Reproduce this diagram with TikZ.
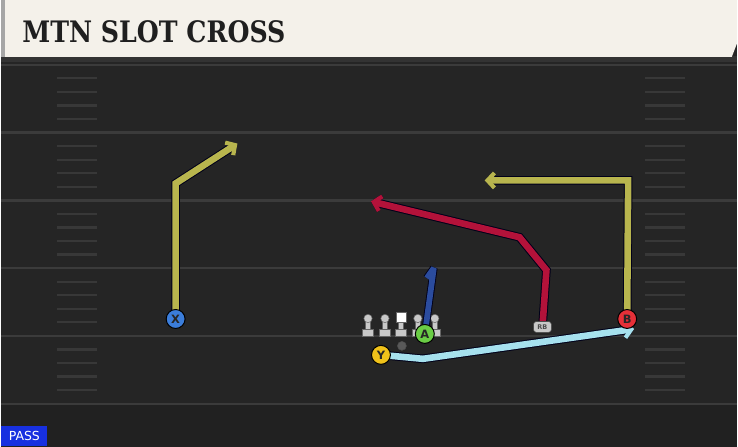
\documentclass[tikz,border=0pt]{standalone}
\usepackage{fontspec}
\setmainfont{DejaVu Sans}
\newfontfamily\titlefont{DejaVu Serif}
\usetikzlibrary{arrows.meta, calc}

\definecolor{fieldgray}{HTML}{252525}
\definecolor{yardline}{HTML}{3B3B3B}
\definecolor{hashgray}{HTML}{383838}
\definecolor{titlebg}{HTML}{F4F1EA}
\definecolor{routeolive}{HTML}{B8B54E}
\definecolor{routered}{HTML}{B3123A}
\definecolor{routeblue}{HTML}{2B4C9E}
\definecolor{routecyan}{HTML}{A6E1EE}
\definecolor{xblue}{HTML}{3B7DDA}
\definecolor{bred}{HTML}{E53038}
\definecolor{yyellow}{HTML}{F0C21A}
\definecolor{agreen}{HTML}{6ACD45}
\definecolor{passblue}{HTML}{1730E0}
\definecolor{olgray}{HTML}{C8C8C8}

\pgfdeclarelayer{field}
\pgfdeclarelayer{routes}
\pgfsetlayers{field,routes,main}

\begin{document}
\begin{tikzpicture}[
		x=1pt, y=-1pt, % pixel grid, y pointing down
		>={Straight Barb[length=7pt, width=15pt, line width=4.2pt]},
		route/.style={line width=6.6pt, miter limit=4, preaction={draw=black!90!blue, line width=8.6pt}},
		blockroute/.style={line width=5.8pt, line join=bevel, preaction={draw=black!90!blue, line width=7.6pt, line join=bevel}},
		player/.style={circle, draw=black, line width=1pt, minimum size=19pt, inner sep=0pt,
			font=\bfseries\fontsize{11.5}{11.5}\selectfont, text=black!85},
		lineman/.style={fill=olgray, draw=black!60, line width=0.5pt}
		]
		
		% --- 1. Field ---
		\begin{pgfonlayer}{field}
			\fill[fieldgray] (0,0) rectangle (738,448);
			\fill[black!12!fieldgray] (0,405) rectangle (738,448);
			\fill[black!80] (0,56) rectangle (738,62);
			
			% yard lines every 68px, four hashes in between
			\foreach \k in {0,...,5} {
				\draw[yardline, line width=2.4pt] (0,65+68*\k) -- (738,65+68*\k);
			}
			\foreach \k in {0,...,4} {
				\foreach \j in {1,...,4} {
					\draw[hashgray, line width=2.2pt] (56,65+68*\k+13.6*\j) -- (96,65+68*\k+13.6*\j);
					\draw[hashgray, line width=2.2pt] (646,65+68*\k+13.6*\j) -- (686,65+68*\k+13.6*\j);
				}
			}
			
			% offensive line
			\foreach \x in {368,385,418,435} {
				\filldraw[lineman] (\x-2.6,321) rectangle (\x+2.6,331);
				\filldraw[lineman] (\x-5.5,330.5) rectangle (\x+5.5,337);
				\filldraw[lineman] (\x,319.5) circle (4.2);
			}
			\filldraw[lineman] (401-2.6,322) rectangle (401+2.6,331);
			\filldraw[lineman] (401-5.5,330.5) rectangle (401+5.5,337);
			\filldraw[white, draw=black!60, line width=0.5pt] (396,313) rectangle (406,323);
			
			% ball
			\filldraw[gray!70!black, draw=black!70, line width=0.5pt] (402,347) circle (4.5);
		\end{pgfonlayer}
		
		% --- 2. Title bar ---
		\fill[titlebg] (0,0) -- (738,0) -- (738,44) -- (733,57) -- (0,57) -- cycle;
		\fill[gray!70] (0,0) rectangle (4,57);
		\node[anchor=south west, inner sep=0pt, text=black!88] (title) at (21,43)
		{\resizebox{264pt}{22pt}{\titlefont\bfseries MTN SLOT CROSS}};
		
		% --- 3. Players ---
		\node[player, fill=xblue] (X) at (175,320) {X};
		\node[player, fill=bred] (B) at (628,320) {B};
		\node[player, fill=yyellow] (Y) at (381,356) {Y};
		\node[player, fill=agreen] (A) at (425,335) {A};
		\node[fill=olgray, draw=black!70, line width=0.6pt, rounded corners=3pt, inner sep=0pt,
		minimum width=18pt, minimum height=11pt, text=black!70, font=\bfseries\fontsize{6.5}{6.5}\selectfont] (RB) at (543,328) {RB};
		
		% --- 4. Routes ---
		\begin{pgfonlayer}{routes}
			\coordinate (xbreak) at (175,184);
			\coordinate (xend) at (237,144);
			\coordinate (bbreak) at (629,181);
			\coordinate (bend) at (485,181);
			\coordinate (rbbend1) at (547,271);
			\coordinate (rbbend2) at (520,238);
			\coordinate (rbend) at (371,202);
			\coordinate (ydip) at (423,360);
			\coordinate (yend) at (635,330);
			\coordinate (atop) at (434,269);
			\coordinate (aflag) at (427,279);
			
			\draw[route, routeolive, ->] (X.center) -- (xbreak) -- (xend);
			\draw[route, routeolive, ->] (B.center) -- (bbreak) -- (bend);
			\draw[route, routered, ->] (RB.center) -- (rbbend1) -- (rbbend2) -- (rbend);
			\draw[route, routecyan, ->] (Y.center) -- (ydip) -- (yend);
			\draw[blockroute, routeblue] (A.center) -- (atop) -- (aflag);
		\end{pgfonlayer}
		
		% --- 5. Play type tag ---
		\node[fill=passblue, text=white, anchor=south west, inner sep=0pt, minimum width=46pt,
		minimum height=20pt, font=\fontsize{12.5}{12.5}\selectfont] (pass) at (0,448) {PASS};
		
		\useasboundingbox (0,0) rectangle (738,448);
	\end{tikzpicture}
\end{document}
